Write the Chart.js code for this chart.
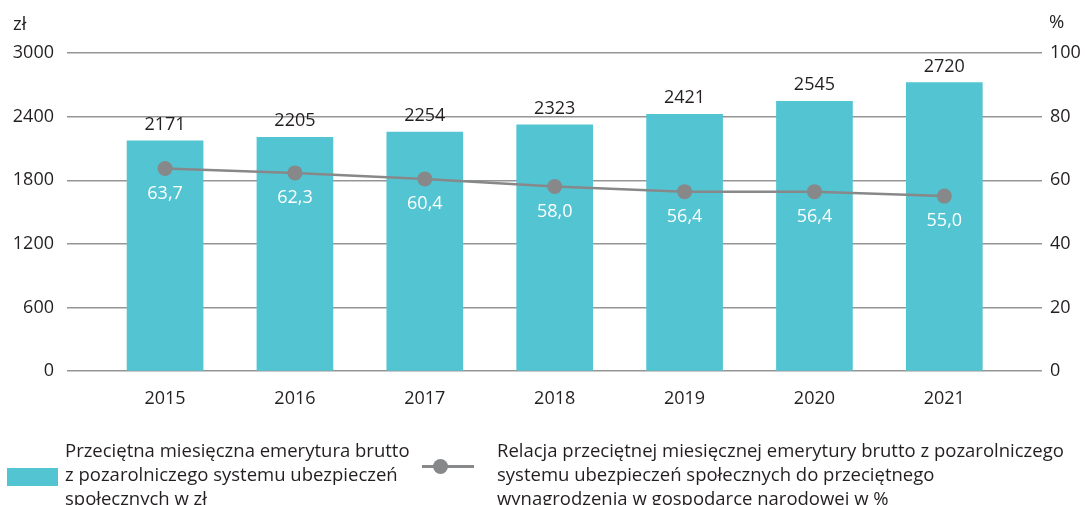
<!DOCTYPE html>
<html><head><meta charset="utf-8">
<script src="https://cdn.jsdelivr.net/npm/chart.js@4/dist/chart.umd.min.js"></script>
<style>
html,body{margin:0;padding:0;background:#fff;}
#wrap{position:relative;width:1085px;height:505px;overflow:hidden;font-family:"Open Sans",sans-serif;color:#231f20;}
canvas{position:absolute;left:0;top:0;}
.t{position:absolute;font-size:18.5px;line-height:24px;white-space:nowrap;}
</style></head>
<body><div id="wrap">
<canvas id="c" width="1085" height="505"></canvas>
<div class="t" style="left:13px;top:11px;">zł</div>
<div class="t" style="left:1049px;top:9px;">%</div>
<div style="position:absolute;left:7px;top:468px;width:51px;height:18px;background:#53c4d1;"></div>
<div class="t" style="left:65px;top:438px;">Przeciętna miesięczna emerytura brutto<br>z pozarolniczego systemu ubezpieczeń<br>społecznych w zł</div>
<div style="position:absolute;left:422px;top:465px;width:52px;height:3px;background:#87888a;"></div>
<div style="position:absolute;left:433px;top:459px;width:15px;height:15px;border-radius:50%;background:#87888a;"></div>
<div class="t" style="left:497px;top:438px;">Relacja przeciętnej miesięcznej emerytury brutto z pozarolniczego<br>systemu ubezpieczeń społecznych do przeciętnego<br>wynagrodzenia w gospodarce narodowej w %</div>
</div>
<script>
const years = ['2015','2016','2017','2018','2019','2020','2021'];
const pension = [2171, 2205, 2254, 2323, 2421, 2545, 2720];
const ratio = [63.7, 62.3, 60.4, 58.0, 56.4, 56.4, 55.0];
const leftTicks = [0, 600, 1200, 1800, 2400, 3000];
const rightTicks = [0, 20, 40, 60, 80, 100];

const FONT = {family: '"Open Sans", sans-serif', size: 18};
const TXT = '#231f20';

const labelPlugin = {
  id: 'labels',
  afterDatasetsDraw(chart) {
    const ctx = chart.ctx;
    ctx.save();
    ctx.font = '18px "Open Sans", sans-serif';
    ctx.textAlign = 'center';
    const bm = chart.getDatasetMeta(0);
    ctx.fillStyle = TXT;
    ctx.textBaseline = 'alphabetic';
    bm.data.forEach((el, i) => {
      ctx.fillText(String(pension[i]), el.x, el.y - 11);
    });
    const lm = chart.getDatasetMeta(1);
    ctx.fillStyle = '#ffffff';
    ctx.textBaseline = 'middle';
    lm.data.forEach((el, i) => {
      ctx.fillText(ratio[i].toFixed(1).replace('.', ','), el.x, el.y + 25);
    });
    ctx.restore();
  }
};

new Chart(document.getElementById('c'), {
  type: 'bar',
  data: {
    datasets: [
      {
        type: 'bar',
        data: pension.map((v, i) => ({x: i, y: v})),
        backgroundColor: '#53c4d1',
        barThickness: 76,
        yAxisID: 'y',
        order: 2
      },
      {
        type: 'line',
        data: ratio.map((v, i) => ({x: i, y: v})),
        borderColor: '#87888a',
        backgroundColor: '#87888a',
        borderWidth: 2.5,
        pointRadius: 7.5,
        pointHoverRadius: 7.5,
        pointBorderWidth: 0,
        tension: 0,
        yAxisID: 'y1',
        order: 1
      }
    ]
  },
  options: {
    responsive: false,
    animation: false,
    events: [],
    layout: {padding: {top: 53, bottom: 94, left: 0, right: 0}},
    plugins: {legend: {display: false}, tooltip: {enabled: false}},
    scales: {
      x: {
        type: 'linear',
        offset: false,
        min: -0.755,
        max: 6.752,
        afterBuildTicks(s) { s.ticks = years.map((_, i) => ({value: i})); },
        afterFit(s) { s.height = 40; },
        grid: {display: false, drawTicks: false, offset: false},
        border: {display: false},
        ticks: {
          callback: (v) => years[v],
          font: FONT, color: TXT, padding: 17, maxRotation: 0, autoSkip: false
        }
      },
      y: {
        position: 'left',
        min: 0, max: 3000,
        afterBuildTicks(s) { s.ticks = leftTicks.map(v => ({value: v})); },
        afterFit(s) { s.width = 67; },
        grid: {color: '#959595', lineWidth: 1.4, drawTicks: false},
        border: {display: false},
        ticks: {font: FONT, color: TXT, padding: 13, callback: (v) => String(v)}
      },
      y1: {
        position: 'right',
        min: 0, max: 100,
        afterBuildTicks(s) { s.ticks = rightTicks.map(v => ({value: v})); },
        afterFit(s) { s.width = 43; },
        grid: {display: false, drawTicks: false},
        border: {display: false},
        ticks: {font: FONT, color: TXT, padding: 8, callback: (v) => String(v)}
      }
    }
  },
  plugins: [labelPlugin]
});
</script>
</body></html>
